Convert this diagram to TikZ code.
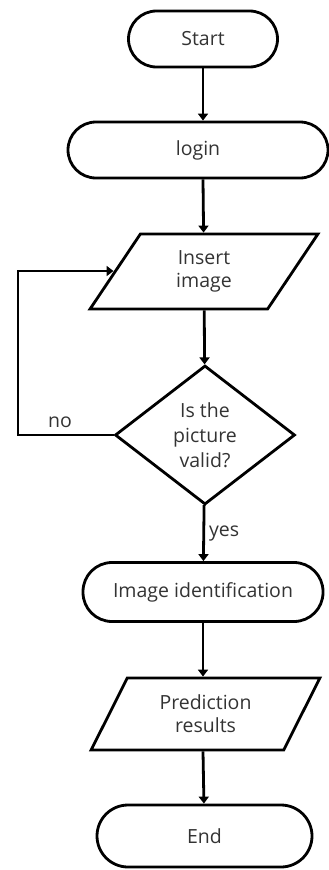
\documentclass[tikz,border=0pt]{standalone}
\usepackage{fontspec}
\setmainfont{Open Sans}
\usetikzlibrary{shapes.geometric, arrows.meta}

\definecolor{inkgray}{HTML}{333333}

\begin{document}
\begin{tikzpicture}[
  x=1pt, y=-1pt,
  line width=2.8pt,
  terminal/.style={draw, rectangle, rounded corners=28pt, minimum height=56pt, font=\fontsize{19.5}{23}\selectfont, text=inkgray, align=center},
  io/.style={draw, trapezium, trapezium left angle=63, trapezium right angle=117, trapezium stretches=true, minimum height=75pt, font=\fontsize{19.5}{23}\selectfont, text=inkgray, align=center},
  decision/.style={draw, diamond, inner sep=0pt, minimum width=180pt, minimum height=139pt, font=\fontsize{19.5}{25}\selectfont, text=inkgray, align=center},
  flow/.style={-{Triangle[width=10pt,length=7pt]}},
  lbl/.style={font=\fontsize{19.5}{22}\selectfont, text=inkgray}
]
  \useasboundingbox (0,0) rectangle (329,870);

  \node[terminal, minimum width=149pt] (start) at (203,39) {Start};
  \node[terminal, minimum width=260pt] (login) at (198,150) {login};
  \node[io, minimum width=228pt] (insert) at (204,271.5) {Insert\\image};
  \node[decision] (valid) at (205,435) {Is the\\picture\\valid?};
  \node[terminal, minimum width=240pt, minimum height=59pt, rounded corners=29pt] (ident) at (203,592) {Image identification};
  \node[io, minimum width=229pt, minimum height=72pt] (result) at (205.5,714) {Prediction\\results};
  \node[terminal, minimum width=215pt, minimum height=62pt, rounded corners=31pt] (end) at (204.5,836) {End};

  \draw[flow] (start) -- (start |- login.north);
  \draw[flow] (login.south -| start) -- (insert);
  \draw[flow] (insert) -- (valid);
  \draw[flow] (valid) -- node[lbl, right, pos=0.5, inner sep=4pt] {yes} (ident);
  \draw[flow] (ident) -- (result.north -| ident);
  \draw[flow] (result.south -| ident) -- (end);

  % loop back when the check fails
  \coordinate (back) at (18,271);
  \draw[flow] (valid.west) -| (back) -- (back -| insert.west);
  \node[lbl] (no) at (60,422) {no};
\end{tikzpicture}
\end{document}
